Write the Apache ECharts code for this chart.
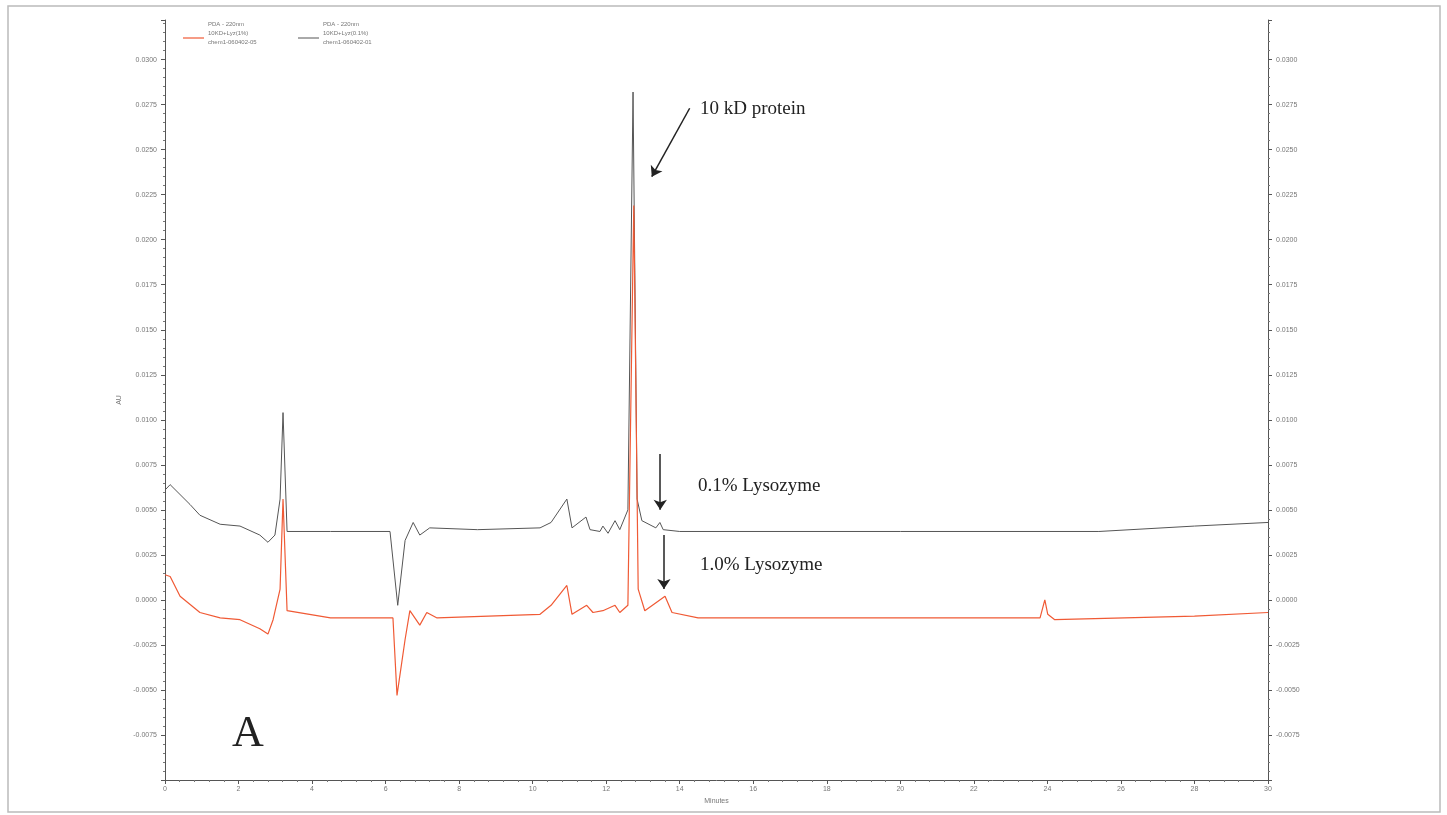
<!DOCTYPE html>
<html>
<head>
<meta charset="utf-8">
<script src="https://cdn.jsdelivr.net/npm/echarts@6/dist/echarts.min.js"></script>
<style>
  html, body { margin: 0; padding: 0; background: #fff; }
  #chart { width: 1447px; height: 815px; }
</style>
</head>
<body>
<div id="chart"></div>
<script>
// 0.1% lysozyme trace (minutes, AU)
const grayTrace = [
    [0.0, 0.0061], [0.14, 0.0064], [0.68, 0.0053], [0.95, 0.0047], [1.5, 0.0042], [2.04, 0.0041],
    [2.58, 0.0036], [2.8, 0.0032], [2.99, 0.0036], [3.13, 0.0056], [3.21, 0.0104], [3.32, 0.0038],
    [4.5, 0.0038], [6.12, 0.0038], [6.33, -0.0003], [6.53, 0.0033], [6.75, 0.0043], [6.93, 0.0036],
    [7.2, 0.004], [8.5, 0.0039], [10.2, 0.004], [10.5, 0.0043], [10.93, 0.0056], [11.07, 0.004],
    [11.45, 0.0046], [11.56, 0.0039], [11.83, 0.0038], [11.91, 0.0041], [12.05, 0.0037], [12.24, 0.0044],
    [12.37, 0.0039], [12.59, 0.005], [12.73, 0.0282], [12.84, 0.0056], [12.97, 0.0044], [13.35, 0.004],
    [13.46, 0.0043], [13.55, 0.0039], [14.0, 0.0038], [20.0, 0.0038], [25.4, 0.0038], [28.0, 0.0041],
    [30.0, 0.0043]
];
// 1.0% lysozyme trace
const redTrace = [
    [0.0, 0.0014], [0.14, 0.0013], [0.41, 0.0002], [0.95, -0.0007], [1.5, -0.001], [2.04, -0.0011],
    [2.58, -0.0016], [2.8, -0.0019], [2.94, -0.0011], [3.13, 0.0006], [3.21, 0.0056], [3.32, -0.0006],
    [4.5, -0.001], [6.2, -0.001], [6.31, -0.0053], [6.53, -0.0022], [6.66, -0.0006], [6.93, -0.0014],
    [7.12, -0.0007], [7.4, -0.001], [10.2, -0.0008], [10.5, -0.0003], [10.93, 0.0008], [11.07, -0.0008],
    [11.47, -0.0003], [11.64, -0.0007], [11.91, -0.0006], [12.24, -0.0003], [12.37, -0.0007], [12.59, -0.0003],
    [12.75, 0.0219], [12.87, 0.0006], [13.05, -0.0006], [13.6, 0.0002], [13.79, -0.0007], [14.5, -0.001],
    [23.8, -0.001], [23.93, 0.0], [24.01, -0.0008], [24.2, -0.0011], [28.0, -0.0009], [30.0, -0.0007]
];
// arrows: [from, to]
const arrows = [
    [[14.27, 0.0273], [13.24, 0.0235]],
    [[13.47, 0.0081], [13.47, 0.005]],
    [[13.57, 0.0036], [13.57, 0.0006]]
];

let chart = echarts.init(document.getElementById('chart'));
let fmt = (v) => (Math.abs(v + 0.01) < 1e-9 ? '' : v.toFixed(4));
let yAxisBase = {
    type: 'value',
    min: -0.01,
    max: 0.0322,
    interval: 0.0025,
    splitLine: { show: false },
    axisLine: { show: true, onZero: false, lineStyle: { color: '#555' } },
    axisTick: { show: true, length: 4, lineStyle: { color: '#555' } },
    minorTick: { show: true, splitNumber: 5, length: 2, lineStyle: { color: '#777' } },
    axisLabel: { formatter: fmt, fontSize: 7, color: '#777', showMaxLabel: false },
};
let option = {
    animation: false,
    grid: { left: 165, right: 179, top: 20, bottom: 35 },
    xAxis: {
        type: 'value',
        min: 0,
        max: 30,
        interval: 2,
        name: 'Minutes',
        nameLocation: 'middle',
        nameGap: 14,
        nameTextStyle: { fontSize: 7, color: '#777' },
        splitLine: { show: false },
        axisLine: { onZero: false, lineStyle: { color: '#555' } },
        axisTick: { length: 4, lineStyle: { color: '#555' } },
        minorTick: { show: true, splitNumber: 5, length: 2, lineStyle: { color: '#777' } },
        axisLabel: { fontSize: 7, color: '#777', margin: 6 },
    },
    yAxis: [
        Object.assign({}, yAxisBase, {
            position: 'left',
            name: 'AU',
            nameLocation: 'middle',
            nameGap: 42,
            nameTextStyle: { fontSize: 7, color: '#777' },
        }),
        Object.assign({}, yAxisBase, { position: 'right' }),
    ],
    series: [
        {
            type: 'line',
            data: grayTrace,
            symbol: 'none',
            lineStyle: { color: '#555', width: 1 },
        },
        {
            type: 'line',
            data: redTrace,
            symbol: 'none',
            lineStyle: { color: '#f05a35', width: 1.2 },
            markLine: {
                silent: true,
                symbol: ['none', 'arrow'],
                symbolSize: 10,
                label: { show: false },
                lineStyle: { color: '#222', width: 1.5, type: 'solid' },
                data: arrows.map((a) => [{ coord: a[0] }, { coord: a[1] }]),
            },
        },
    ],
    graphic: [
        { type: 'rect', shape: { x: 8, y: 6, width: 1432, height: 806 }, style: { fill: 'none', stroke: '#bbb', lineWidth: 1.5 } },
        { type: 'text', x: 700, y: 100, style: { text: '10 kD protein', font: '19px "Liberation Serif"', fill: '#222' } },
        { type: 'text', x: 698, y: 477, style: { text: '0.1% Lysozyme', font: '19px "Liberation Serif"', fill: '#222' } },
        { type: 'text', x: 700, y: 556, style: { text: '1.0% Lysozyme', font: '19px "Liberation Serif"', fill: '#222' } },
        { type: 'text', x: 232, y: 712, style: { text: 'A', font: '44px "Liberation Serif"', fill: '#222' } },
        { type: 'text', x: 208, y: 20, style: { text: 'PDA - 220nm\n10KD+Lyz(1%)\nchem1-060402-05', font: '6px sans-serif', fill: '#777', lineHeight: 9 } },
        { type: 'line', shape: { x1: 183, y1: 38, x2: 204, y2: 38 }, style: { stroke: '#f05a35', lineWidth: 1.2 } },
        { type: 'text', x: 323, y: 20, style: { text: 'PDA - 220nm\n10KD+Lyz(0.1%)\nchem1-060402-01', font: '6px sans-serif', fill: '#777', lineHeight: 9 } },
        { type: 'line', shape: { x1: 298, y1: 38, x2: 319, y2: 38 }, style: { stroke: '#555', lineWidth: 1 } },
    ],
};
chart.setOption(option);
</script>
</body>
</html>
